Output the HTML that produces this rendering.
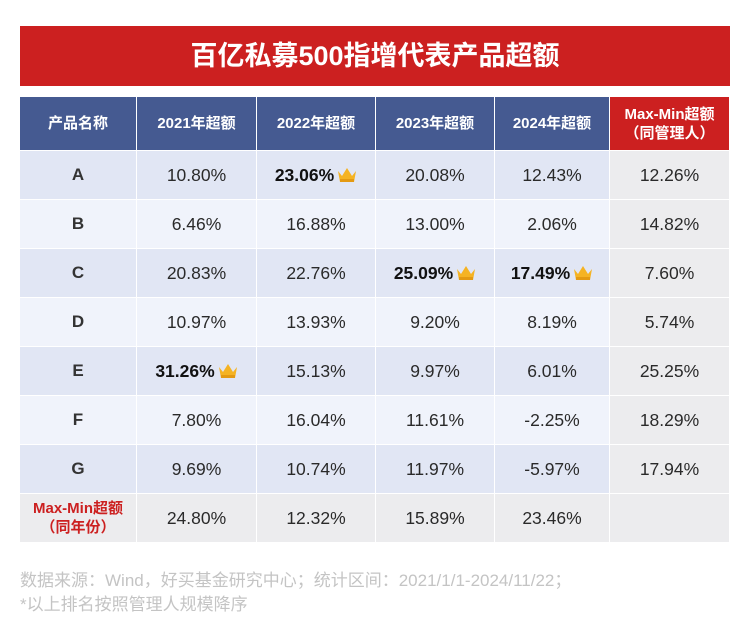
<!DOCTYPE html>
<html><head><meta charset="utf-8">
<style>
body{margin:0;width:750px;height:632px;background:#fff;font-family:"Liberation Sans","Noto Sans CJK SC",sans-serif;position:relative;overflow:hidden}
#title{position:absolute;left:20px;top:26px;width:710px;height:60px;background:#cc2020;color:#fff;font-weight:bold;font-size:27px;line-height:60px;text-align:center}
.c{position:absolute;box-sizing:border-box;display:flex;align-items:center;justify-content:center;text-align:center;font-size:17.5px;color:#2a2a2a;border-right:1px solid #fff;border-bottom:1px solid #fff}
.h{background:#455a91;color:#fff;font-weight:bold;font-size:15px;line-height:19px}
.hr{background:#cc2020}
.note{position:absolute;left:20px;color:#c4c4c4;font-size:17px;white-space:nowrap}
.crown{margin-left:3px}
</style></head><body>
<div id="title">百亿私募500指增代表产品超额</div>
<div id="tbl"></div>
<div class="note" style="top:566px">数据来源：Wind，好买基金研究中心；统计区间：2021/1/1-2024/11/22；</div>
<div class="note" style="top:590px">*以上排名按照管理人规模降序</div>
<script>
const headers=["产品名称","2021年超额","2022年超额","2023年超额","2024年超额","Max-Min超额<br>（同管理人）"];
const products=["A","B","C","D","E","F","G"];
const y2021=["10.80%","6.46%","20.83%","10.97%","31.26%","7.80%","9.69%"];
const y2022=["23.06%","16.88%","22.76%","13.93%","15.13%","16.04%","10.74%"];
const y2023=["20.08%","13.00%","25.09%","9.20%","9.97%","11.61%","11.97%"];
const y2024=["12.43%","2.06%","17.49%","8.19%","6.01%","-2.25%","-5.97%"];
const maxMinMgr=["12.26%","14.82%","7.60%","5.74%","25.25%","18.29%","17.94%"];
const maxMinYear=["24.80%","12.32%","15.89%","23.46%",""];
const crowns=[[0,2],[2,3],[2,4],[4,1]];
const xs=[20,137,257,376,495,610,730];
const tbl=document.getElementById('tbl');
const crownSvg='<svg class="crown" width="20" height="16" viewBox="0 0 20 16"><path d="M1 4 L5 9 L10 1 L15 9 L19 4 L17 15 L3 15 Z" fill="#f5b323"/><path d="M3 12 L17 12 L17 15 L3 15Z" fill="#e49a12"/></svg>';
function cell(col,top,h,html,cls,bg,name){
  const d=document.createElement('div');
  d.className='c '+cls;
  d.style.left=xs[col]+'px';d.style.top=top+'px';
  d.style.width=(xs[col+1]-xs[col])+'px';d.style.height=h+'px';
  if(bg)d.style.background=bg;
  d.innerHTML=html;
  
  
  tbl.appendChild(d);
}
headers.forEach((t,i)=>cell(i,97,54,t,'h'+(i==5?' hr':''),null,'header-'+i));
const cols=[y2021,y2022,y2023,y2024];
products.forEach((p,r)=>{
  const top=151+r*49;
  const bg=r%2==0?'#e1e6f4':'#f0f3fb';
  cell(0,top,49,'<b style="color:#333;font-size:17px">'+p+'</b>','',bg,'product-label-'+p);
  cols.forEach((arr,c)=>{
    const isC=crowns.some(k=>k[0]==r&&k[1]==c+1);
    const html=isC?'<b style="color:#111">'+arr[r]+'</b>'+crownSvg:arr[r];
    cell(c+1,top,49,html,'',bg,'value-'+p+'-'+(2021+c));
  });
  cell(5,top,49,maxMinMgr[r],'','#ececee','maxmin-manager-'+p);
});
const lt=151+7*49;
cell(0,lt,49,'<b style="color:#cc2020;font-size:15px;line-height:19px">Max-Min超额<br>（同年份）</b>','','#ececee','maxmin-year-label');
maxMinYear.forEach((v,i)=>cell(i+1,lt,49,v,'','#ececee','maxmin-year-'+i));
</script>
</body></html>
